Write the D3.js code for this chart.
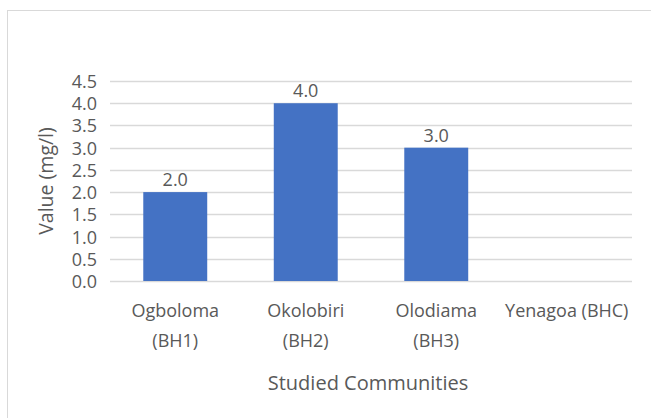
<!DOCTYPE html>
<html><head><meta charset="utf-8">
<script src="https://cdn.jsdelivr.net/npm/d3@7"></script>
<style>body{margin:0;background:#fff}svg{display:block}text{font-family:"Open Sans",sans-serif;fill:#595959}</style>
</head><body><svg id="c" width="651" height="418"></svg>
<script>
const categories = [["Ogboloma","(BH1)"],["Okolobiri","(BH2)"],["Olodiama","(BH3)"],["Yenagoa (BHC)"]];
const values = [2.0, 4.0, 3.0, null];
const yTicks = [0,0.5,1,1.5,2,2.5,3,3.5,4,4.5];
const yTitle = "Value (mg/l)";
const xTitle = "Studied Communities";

const svg = d3.select("#c");
svg.append("rect").attr("x",7.5).attr("y",10.5).attr("width",700).attr("height",500)
  .attr("fill","#fff").attr("stroke","#d9d9d9");

const m = {l:110, r:632, t:81, b:281};
const keys = categories.map((c,i)=>i);
const x = d3.scaleBand().domain(keys).range([m.l,m.r]).paddingInner(0.51).paddingOuter(0.255);
const y = d3.scaleLinear().domain([0,4.5]).range([m.b,m.t]);

const g = svg.append("g");
g.selectAll("line.grid").data(yTicks).join("line")
  .attr("x1",m.l).attr("x2",m.r).attr("y1",d=>Math.round(y(d))+0.5).attr("y2",d=>Math.round(y(d))+0.5)
  .attr("stroke","#d9d9d9").attr("stroke-width",1.5);

const fs = 18;
const yAxis = svg.append("g").attr("transform",`translate(${m.l},0)`)
  .call(d3.axisLeft(y).tickValues(yTicks).tickFormat(d3.format(".1f")).tickSize(0).tickPadding(13));
yAxis.select(".domain").remove();
yAxis.selectAll("text").attr("font-size",fs).attr("fill","#595959").attr("font-family","Open Sans").attr("dy","0.36em");

const bars = values.map((v,i)=>({i,v})).filter(d=>d.v!=null);
svg.selectAll("rect.bar").data(bars).join("rect").attr("class","bar")
  .attr("x",d=>x(d.i)).attr("width",x.bandwidth())
  .attr("y",d=>y(d.v)).attr("height",d=>y(0)-y(d.v)).attr("fill","#4472c4");

svg.selectAll("text.lbl").data(bars).join("text").attr("class","lbl")
  .attr("x",d=>x(d.i)+x.bandwidth()/2).attr("y",d=>y(d.v)-6)
  .attr("text-anchor","middle").attr("font-size",fs).attr("fill","#404040")
  .text(d=>d3.format(".1f")(d.v));

const xAxis = svg.append("g").attr("transform",`translate(0,${m.b})`)
  .call(d3.axisBottom(x).tickSize(0).tickFormat(""));
xAxis.select(".domain").remove();
xAxis.selectAll(".tick").each(function(d){
  const t = d3.select(this).append("text").attr("text-anchor","middle").attr("font-size",fs).attr("fill","#595959");
  categories[d].forEach((s,j)=>t.append("tspan").attr("x",0).attr("y",36+j*30).text(s));
});

svg.append("text").attr("transform",`translate(53,${(m.t+m.b)/2}) rotate(-90)`)
  .attr("text-anchor","middle").attr("font-size",19.5).text(yTitle);
svg.append("text").attr("x",(m.l+m.r)/2 - 3).attr("y",390).attr("text-anchor","middle")
  .attr("font-size",20).text(xTitle);
</script></body></html>
